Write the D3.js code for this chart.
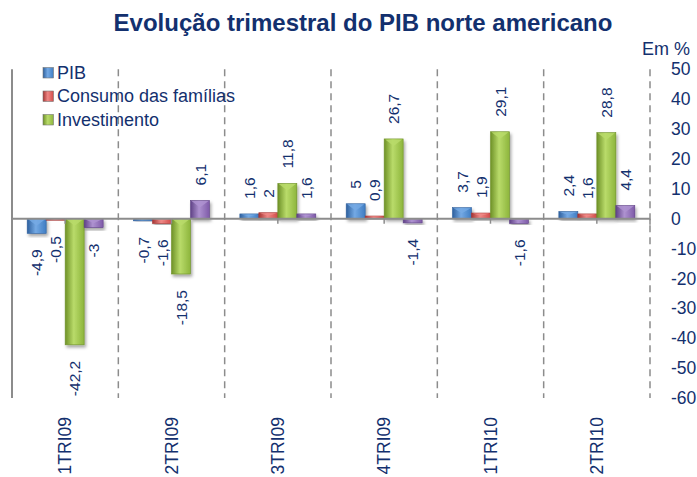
<!DOCTYPE html>
<html><head><meta charset="utf-8">
<script src="https://cdn.jsdelivr.net/npm/d3@7"></script>
<style>
html,body{margin:0;padding:0;background:#fff;}
svg{display:block;font-family:Arial,"Liberation Sans",sans-serif;}
</style></head>
<body>
<svg id="chart" width="697" height="477"></svg>
<script>
const categories = ["1TRI09","2TRI09","3TRI09","4TRI09","1TRI10","2TRI10"];
const seriesNames = ["PIB","Consumo das famílias","Investimento",""];
const pib = [-4.9,-0.7,1.6,5,3.7,2.4];
const consumo = [-0.5,-1.6,2,0.9,1.9,1.6];
const investimento = [-42.2,-18.5,11.8,26.7,29.1,28.8];
const quarta = [-3,6.1,1.6,-1.4,-1.6,4.4];
const yTicks = [50,40,30,20,10,0,-10,-20,-30,-40,-50,-60];
const title = "Evolução trimestral do PIB norte americano";
const unitLabel = "Em %";

const seriesValues = [pib, consumo, investimento, quarta];
const colors = [
  {base:"#3F7DC3", light:"#74A9E4", dark:"#2E609E"},
  {base:"#D24B49", light:"#EE8886", dark:"#A63533"},
  {base:"#8DB53C", light:"#B9DB6A", dark:"#6E9127"},
  {base:"#7E5AA8", light:"#AE92D0", dark:"#5F4186"}
];
const navy = "#13306E";
const gridGray = "#8C8C8C";
const FF = "Arial, 'Liberation Sans', sans-serif";

const svg = d3.select("#chart");
const defs = svg.append("defs");
colors.forEach((c,i)=>{
  const g = defs.append("linearGradient").attr("id","g"+i).attr("x1","0").attr("x2","1").attr("y1","0").attr("y2","0");
  g.append("stop").attr("offset","0%").attr("stop-color",c.dark);
  g.append("stop").attr("offset","45%").attr("stop-color",c.light);
  g.append("stop").attr("offset","100%").attr("stop-color",c.base);
});
const f = defs.append("filter").attr("id","sh").attr("x","-30%").attr("y","-30%").attr("width","160%").attr("height","160%");
f.append("feDropShadow").attr("dx",1.5).attr("dy",2.5).attr("stdDeviation",1.8).attr("flood-color","#000").attr("flood-opacity",0.35);

const left = 12, right = 650;
const x = d3.scaleBand().domain(categories).range([left,right]).padding(0);
const xs = d3.scaleBand().domain(d3.range(4)).range([0,x.bandwidth()]).paddingInner(0).paddingOuter(0.8);
const y = d3.scaleLinear().domain([-60,50]).range([398,69.3]);

// title
svg.append("text").attr("x",363).attr("y",31).attr("text-anchor","middle")
  .attr("font-size",24).attr("font-weight","bold").attr("fill",navy).text(title);
svg.append("text").attr("x",690).attr("y",55).attr("text-anchor","end")
  .attr("font-size",18).attr("fill",navy).text(unitLabel);

// dashed dividers
const bounds = categories.map(c=>x(c)+x.bandwidth());
svg.append("g").selectAll("line").data(bounds).join("line")
  .attr("x1",d=>d).attr("x2",d=>d).attr("y1",y(50)).attr("y2",y(-60))
  .attr("stroke",gridGray).attr("stroke-width",1.5).attr("stroke-dasharray","7,5");

// left axis line
svg.append("line").attr("x1",left).attr("x2",left).attr("y1",y(50)).attr("y2",y(-60))
  .attr("stroke",gridGray).attr("stroke-width",2);

// right axis labels
const yAxis = d3.axisRight(y).tickValues(yTicks).tickSize(0).tickPadding(0).tickFormat(d=>String(d));
const ya = svg.append("g").attr("transform","translate(671,0)").call(yAxis);
ya.attr("font-family",FF);
ya.select(".domain").remove();
ya.selectAll("text").attr("font-size",17.5).attr("fill",navy);

// bars
const data = [];
categories.forEach((c,ci)=>seriesValues.forEach((s,si)=>data.push({c,si,v:s[ci]})));
const bars = svg.append("g");
data.forEach(d=>{
  const bx = x(d.c)+xs(d.si), bw = xs.bandwidth();
  const y0 = y(Math.max(0,d.v)), y1 = y(Math.min(0,d.v));
  const h = Math.max(1.5, y1-y0);
  const g = bars.append("g").attr("filter","url(#sh)");
  g.append("rect").attr("x",bx).attr("y",y0).attr("width",bw).attr("height",h)
    .attr("fill",`url(#g${d.si})`).attr("stroke",colors[d.si].dark).attr("stroke-width",0.6);
  const th = Math.min(7, h/2);
  g.append("path").attr("d",`M${bx+1},${y0+0.5} L${bx+bw-1},${y0+0.5} L${bx+bw/2},${y0+th} Z`)
    .attr("fill",colors[d.si].light).attr("opacity",0.85);
});

// zero line
svg.append("line").attr("x1",left).attr("x2",right).attr("y1",y(0)).attr("y2",y(0))
  .attr("stroke",gridGray).attr("stroke-width",2);
// ticks at category centers
svg.append("g").selectAll("line").data(categories).join("line")
  .attr("x1",d=>x(d)+x.bandwidth()/2).attr("x2",d=>x(d)+x.bandwidth()/2)
  .attr("y1",y(0)).attr("y2",y(0)+5).attr("stroke",gridGray).attr("stroke-width",1.5);
svg.append("line").attr("x1",right).attr("x2",right).attr("y1",y(0)).attr("y2",y(0)+6)
  .attr("stroke",gridGray).attr("stroke-width",1.5);

// value labels
const fmt = v=>String(v).replace(".",",");
svg.append("g").selectAll("text").data(data).join("text")
  .attr("transform",d=>{
    const cx = x(d.c)+xs(d.si)+xs.bandwidth()/2;
    const yy = d.v>=0 ? y(d.v)-15 : y(d.v)+16;
    return `translate(${cx},${yy}) rotate(-90)`;
  })
  .attr("text-anchor",d=>d.v>=0?"start":"end")
  .attr("dy","0.36em")
  .attr("font-size",15.5).attr("fill",navy).text(d=>fmt(d.v));

// category labels
svg.append("g").selectAll("text").data(categories).join("text")
  .attr("transform",d=>`translate(${x(d)+x.bandwidth()/2},417) rotate(-90)`)
  .attr("text-anchor","end").attr("dy","0.36em")
  .attr("font-size",17.5).attr("fill",navy).text(d=>d);

// legend
const legendNames = seriesNames.slice(0,3);
const lg = svg.append("g");
legendNames.forEach((n,i)=>{
  const yy = 78.5 + i*23.5;
  lg.append("rect").attr("x",43).attr("y",yy-11).attr("width",10.5).attr("height",10.5)
    .attr("fill",`url(#g${i})`).attr("stroke","#777").attr("stroke-width",0.6);
  lg.append("text").attr("x",57).attr("y",yy).attr("font-size",18).attr("fill",navy).text(n);
});
</script>
</body></html>
